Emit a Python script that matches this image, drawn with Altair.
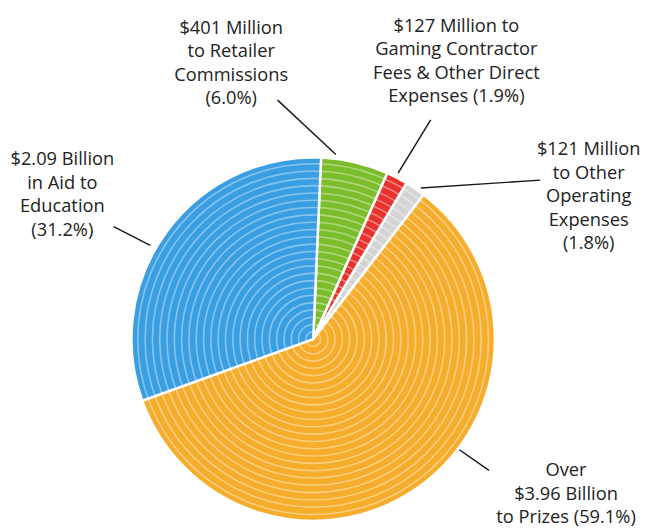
import altair as alt
import pandas as pd
import math

# ---- data ----
categories = ["Retailer Commissions", "Gaming Contractor Fees & Other Direct Expenses",
              "Other Operating Expenses", "Prizes", "Aid to Education"]
percent = [6.0, 1.9, 1.8, 59.1, 31.2]
labels = [
    "$401 Million\nto Retailer\nCommissions\n(6.0%)",
    "$127 Million to\nGaming Contractor\nFees & Other Direct\nExpenses (1.9%)",
    "$121 Million\nto Other\nOperating\nExpenses\n(1.8%)",
    "Over\n$3.96 Billion\nto Prizes (59.1%)",
    "$2.09 Billion\nin Aid to\nEducation\n(31.2%)",
]
colors = ["#7cbd2b", "#e8322e", "#d4d4d4", "#f6ad2b", "#3a9ee2"]

# ---- layout (pixels in chart space) ----
CX, CY, R = 309, 332, 184
start = math.radians(2.5)
label_x = [226, 454, 588, 565, 55]
label_y = [17, 15, 140, 465, 150]
line_x1 = [273, 428, 418, 457, 107]
line_y1 = [90, 110, 179, 444, 218]
line_x2 = [332, 395, 539, 487, 144]
line_y2 = [145, 164, 171, 465, 237]

pie_df = pd.DataFrame({"category": categories, "percent": percent,
                       "order": list(range(len(categories)))})
lab_df = pd.DataFrame({"label": labels, "lx": label_x, "ly": label_y})
line_df = pd.DataFrame({"x1": line_x1, "y1": line_y1, "x2": line_x2, "y2": line_y2})
ring_df = pd.DataFrame({"r": [7.4 * k for k in range(1, 25)]})

pie = alt.Chart(pie_df).mark_arc(radius=R, stroke="white", strokeWidth=2.5).encode(
    theta=alt.Theta("percent:Q", stack=True,
                    scale=alt.Scale(range=[start, start + 2 * math.pi])),
    order=alt.Order("order:Q"),
    color=alt.Color("category:N", scale=alt.Scale(domain=categories, range=colors), legend=None),
    x=alt.value(CX), y=alt.value(CY),
)

rings = alt.Chart(ring_df).mark_arc(theta=0, theta2=2 * math.pi, fillOpacity=0,
                                    stroke="white", strokeWidth=1.6, strokeOpacity=0.4).encode(
    radius=alt.Radius("r:Q", scale=None, stack=False),
    x=alt.value(CX), y=alt.value(CY),
)

lines = alt.Chart(line_df).mark_rule(color="#1a1a1a", strokeWidth=1.5).encode(
    x=alt.X("x1:Q", scale=None, axis=None), y=alt.Y("y1:Q", scale=None, axis=None),
    x2="x2:Q", y2="y2:Q",
)

text = alt.Chart(lab_df).mark_text(font="Open Sans", fontSize=18.5, lineHeight=23.7,
                                   lineBreak="\n", align="center", baseline="middle",
                                   color="#222222").encode(
    x=alt.X("lx:Q", scale=None, axis=None), y=alt.Y("ly:Q", scale=None, axis=None),
    text="label:N",
)

chart = alt.layer(pie, rings, lines, text).properties(
    width=646, height=523, autosize=alt.AutoSizeParams(type="none"), padding=0
).configure_view(stroke=None)

chart.save("out.html", embed_options={"renderer": "svg", "actions": False})
